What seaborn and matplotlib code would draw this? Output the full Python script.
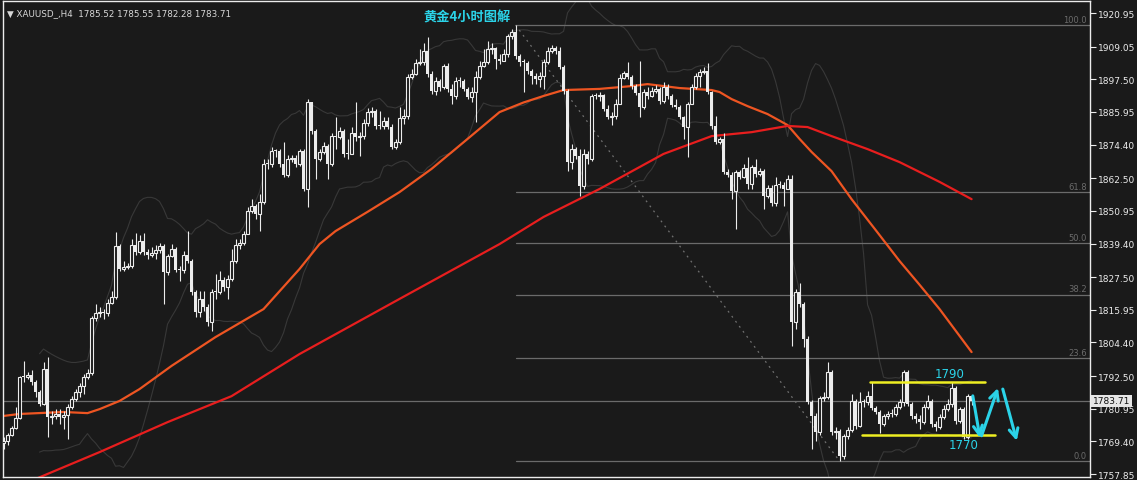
import matplotlib.pyplot as plt
import matplotlib.transforms as mtransforms
import numpy as np
import pandas as pd
import seaborn as sns

# 4H candles (XAUUSD); open = previous close
first_open = 1768.8
closes = [
    1769.5, 1771.6, 1774.1, 1777.7, 1792.2, 1792.2, 1792.9, 1790.4, 1786.9, 1782.6,
    1795.0, 1778.0, 1778.4, 1779.1, 1778.0, 1778.7, 1781.5, 1784.4, 1786.9, 1789.0,
    1792.2, 1793.6, 1813.0, 1814.8, 1815.2, 1814.8, 1818.3, 1820.5, 1838.5, 1830.4,
    1831.1, 1831.4, 1838.9, 1836.4, 1840.3, 1836.4, 1835.3, 1836.0, 1837.1, 1838.5,
    1829.3, 1835.0, 1837.5, 1830.0, 1830.0, 1835.3, 1833.2, 1822.2, 1815.2, 1819.8,
    1816.9, 1811.6, 1822.2, 1822.2, 1826.5, 1824.0, 1826.8, 1833.2, 1838.9, 1839.6,
    1842.8, 1850.9, 1852.7, 1849.8, 1854.1, 1867.5, 1867.5, 1872.1, 1872.1, 1867.5,
    1863.6, 1869.3, 1869.6, 1867.5, 1872.1, 1858.7, 1889.5, 1879.2, 1869.3, 1871.8,
    1873.9, 1867.5, 1877.4, 1877.1, 1879.2, 1871.1, 1871.1, 1878.5, 1877.1, 1877.4,
    1882.0, 1885.9, 1886.3, 1881.0, 1881.0, 1882.7, 1880.6, 1873.5, 1875.3, 1883.8,
    1884.5, 1898.3, 1899.4, 1903.3, 1903.6, 1907.5, 1899.4, 1893.3, 1896.9, 1894.8,
    1902.2, 1894.1, 1891.6, 1896.9, 1896.9, 1894.1, 1891.2, 1893.0, 1898.3, 1902.2,
    1903.6, 1908.2, 1908.6, 1904.7, 1904.0, 1906.4, 1912.8, 1914.2, 1905.7, 1903.6,
    1903.3, 1900.4, 1898.7, 1897.6, 1898.7, 1903.6, 1907.5, 1908.6, 1907.5, 1901.8,
    1893.3, 1868.2, 1872.8, 1870.4, 1859.7, 1871.1, 1869.3, 1891.6, 1891.6, 1891.9,
    1887.0, 1884.1, 1884.5, 1888.7, 1898.0, 1899.7, 1898.3, 1895.1, 1892.6, 1887.7,
    1893.0, 1891.6, 1893.3, 1894.1, 1889.8, 1894.8, 1891.6, 1888.4, 1887.7, 1884.1,
    1880.6, 1888.7, 1894.8, 1898.7, 1900.1, 1900.4, 1893.0, 1881.0, 1875.3, 1876.4,
    1864.7, 1863.6, 1858.0, 1864.7, 1862.9, 1866.1, 1860.4, 1866.5, 1864.0, 1865.0,
    1856.2, 1859.0, 1853.7, 1860.1, 1860.1, 1858.7, 1862.2, 1811.6, 1822.2, 1818.0,
    1805.6, 1783.3, 1778.4, 1772.7, 1784.7, 1785.1, 1793.9, 1772.7, 1773.1, 1764.2,
    1771.3, 1773.4, 1783.7, 1774.8, 1783.3, 1783.3, 1785.4, 1781.2, 1779.8, 1775.5,
    1778.4, 1779.1, 1779.1, 1781.5, 1783.3, 1793.9, 1782.6, 1778.4, 1777.3, 1776.2,
    1781.5, 1783.7, 1775.5, 1774.5, 1778.0, 1780.8, 1782.6, 1788.3, 1776.6, 1780.8,
    1770.9, 1785.52, 1783.71,
]
highs = [
    1770.9, 1772.3, 1774.8, 1781.5, 1792.5, 1797.8, 1793.9, 1794.6, 1791.1, 1787.6,
    1797.5, 1799.2, 1780.1, 1780.8, 1780.8, 1780.1, 1782.6, 1785.4, 1787.9, 1790.0,
    1793.3, 1795.0, 1813.7, 1818.0, 1816.9, 1816.2, 1819.8, 1822.6, 1843.5, 1839.2,
    1833.2, 1832.5, 1841.0, 1843.1, 1842.4, 1843.1, 1837.5, 1838.2, 1838.9, 1839.6,
    1839.2, 1835.7, 1839.2, 1838.2, 1831.4, 1836.7, 1843.8, 1833.9, 1822.9, 1822.6,
    1822.6, 1818.0, 1823.3, 1828.6, 1829.7, 1827.5, 1828.2, 1837.5, 1841.0, 1841.0,
    1843.8, 1852.3, 1855.1, 1853.4, 1856.9, 1869.3, 1869.3, 1873.5, 1872.8, 1872.8,
    1875.3, 1870.7, 1870.7, 1870.7, 1872.8, 1872.8, 1890.5, 1889.5, 1879.9, 1872.8,
    1875.3, 1874.6, 1878.5, 1884.1, 1880.6, 1879.9, 1876.4, 1880.6, 1889.5, 1878.8,
    1883.4, 1887.3, 1887.7, 1887.0, 1886.3, 1884.1, 1884.1, 1881.7, 1876.4, 1887.7,
    1887.0, 1899.4, 1901.1, 1904.7, 1908.2, 1910.3, 1912.5, 1900.4, 1898.3, 1897.6,
    1902.9, 1903.3, 1895.8, 1898.3, 1898.3, 1897.6, 1894.8, 1894.8, 1900.4, 1904.0,
    1908.2, 1911.0, 1910.3, 1908.9, 1906.4, 1908.2, 1913.5, 1915.3, 1916.7, 1906.4,
    1904.7, 1904.0, 1901.1, 1899.7, 1900.1, 1904.7, 1908.9, 1909.6, 1909.3, 1908.9,
    1902.5, 1894.1, 1874.6, 1873.5, 1872.8, 1872.8, 1872.1, 1892.3, 1892.6, 1893.0,
    1892.3, 1888.4, 1885.9, 1890.5, 1899.4, 1900.4, 1903.6, 1899.0, 1895.8, 1904.0,
    1894.1, 1894.8, 1894.8, 1895.5, 1894.8, 1896.5, 1895.8, 1892.3, 1890.5, 1888.4,
    1884.5, 1889.5, 1895.8, 1899.7, 1901.1, 1901.8, 1903.3, 1893.4, 1884.5, 1877.1,
    1878.5, 1865.8, 1864.7, 1865.4, 1865.4, 1867.5, 1870.0, 1867.2, 1869.3, 1866.1,
    1865.8, 1860.1, 1860.1, 1862.9, 1861.5, 1861.2, 1863.6, 1863.6, 1823.3, 1825.4,
    1818.7, 1806.7, 1784.0, 1779.4, 1785.4, 1786.8, 1797.5, 1794.6, 1774.5, 1773.8,
    1772.0, 1774.5, 1786.2, 1784.4, 1786.9, 1784.4, 1787.2, 1790.4, 1781.9, 1780.5,
    1779.1, 1780.1, 1780.8, 1782.6, 1784.4, 1794.6, 1794.6, 1783.3, 1779.4, 1778.7,
    1782.6, 1785.8, 1784.4, 1776.6, 1779.1, 1782.3, 1784.4, 1790.4, 1789.0, 1781.5,
    1781.5, 1786.2, 1785.55,
]
lows = [
    1766.7, 1768.1, 1771.3, 1773.8, 1777.3, 1790.4, 1791.5, 1789.3, 1785.1, 1781.9,
    1782.3, 1770.9, 1775.5, 1777.3, 1775.5, 1773.8, 1770.2, 1780.8, 1783.7, 1785.1,
    1786.2, 1791.5, 1792.9, 1812.0, 1813.4, 1812.7, 1813.7, 1818.0, 1819.8, 1829.7,
    1829.7, 1830.4, 1830.7, 1835.3, 1835.7, 1835.3, 1833.9, 1834.6, 1833.9, 1836.0,
    1818.0, 1828.2, 1834.6, 1829.3, 1826.1, 1829.0, 1832.5, 1821.2, 1813.4, 1813.4,
    1815.5, 1810.2, 1808.4, 1819.8, 1821.5, 1822.6, 1819.8, 1826.1, 1832.5, 1837.5,
    1838.9, 1843.8, 1850.2, 1848.1, 1843.8, 1853.4, 1865.8, 1866.5, 1870.0, 1866.5,
    1862.9, 1862.9, 1868.2, 1866.5, 1866.8, 1858.0, 1852.3, 1878.1, 1862.2, 1868.6,
    1871.1, 1862.2, 1866.8, 1872.8, 1876.4, 1870.0, 1869.3, 1874.6, 1875.7, 1870.3,
    1876.4, 1881.0, 1884.1, 1879.9, 1879.9, 1879.9, 1879.9, 1872.8, 1872.8, 1874.6,
    1881.7, 1883.4, 1897.6, 1899.0, 1902.5, 1902.5, 1898.3, 1892.3, 1891.9, 1893.4,
    1894.1, 1893.0, 1888.7, 1890.5, 1894.8, 1893.4, 1890.5, 1889.5, 1882.4, 1897.6,
    1901.8, 1902.9, 1906.4, 1901.1, 1902.9, 1904.0, 1905.4, 1911.8, 1904.7, 1902.2,
    1893.0, 1899.4, 1895.8, 1895.8, 1894.8, 1894.1, 1902.9, 1906.8, 1906.4, 1901.1,
    1892.3, 1865.0, 1865.8, 1869.3, 1856.2, 1858.7, 1867.5, 1868.6, 1890.5, 1889.8,
    1886.3, 1883.4, 1881.3, 1883.4, 1888.8, 1897.6, 1897.6, 1894.1, 1891.9, 1884.1,
    1887.0, 1890.5, 1891.2, 1892.6, 1888.8, 1889.1, 1890.5, 1887.7, 1887.0, 1883.4,
    1876.4, 1870.0, 1888.8, 1894.1, 1894.8, 1899.4, 1892.3, 1879.9, 1874.6, 1874.6,
    1864.0, 1862.9, 1855.1, 1844.5, 1862.2, 1862.6, 1858.7, 1858.7, 1862.9, 1863.3,
    1851.6, 1855.5, 1852.7, 1852.7, 1859.0, 1852.7, 1858.7, 1803.1, 1809.1, 1816.9,
    1802.8, 1782.6, 1766.7, 1769.5, 1771.6, 1783.7, 1784.4, 1771.6, 1770.2, 1762.4,
    1763.2, 1770.2, 1772.7, 1773.8, 1774.5, 1781.5, 1782.3, 1780.5, 1779.1, 1772.3,
    1774.8, 1777.3, 1778.0, 1778.4, 1780.8, 1781.9, 1781.9, 1777.3, 1775.9, 1773.8,
    1775.5, 1780.8, 1774.5, 1773.1, 1773.8, 1777.3, 1780.1, 1781.5, 1775.5, 1775.9,
    1770.2, 1770.2, 1782.28,
]

# moving averages (vertices, x = candle index)
ma_fast_idx = [0, 4, 15, 21, 24, 29, 34, 42, 53, 65, 74, 79, 83, 91, 99, 107, 116, 124, 130,
               135, 140, 149, 157, 161, 169, 177, 179, 182, 186, 191, 196, 199, 202, 207,
               212, 218, 224, 229, 234, 238, 242]
ma_fast = [1778.4, 1779.1, 1779.8, 1779.4, 1780.8, 1783.7, 1787.9, 1796.1, 1806.3, 1816.2,
           1830.4, 1839.2, 1843.8, 1850.6, 1857.6, 1865.8, 1876.4, 1885.9, 1889.3,
           1891.6, 1893.7, 1894.1, 1895.1, 1895.8, 1894.4, 1893.7, 1893.0, 1890.5,
           1888.0, 1885.2, 1881.3, 1876.4, 1871.8, 1865.0, 1855.1, 1844.2, 1833.2,
           1824.8, 1816.2, 1808.6, 1801.0]
ma_slow_idx = [7, 24, 41, 57, 74, 99, 124, 135, 149, 165, 177, 187, 196, 201, 207, 216,
               224, 234, 242]
ma_slow = [1755.5, 1765.6, 1776.2, 1785.4, 1800.3, 1819.8, 1839.2, 1848.8, 1858.7, 1871.1,
           1877.4, 1878.8, 1881.0, 1880.6, 1877.4, 1872.8, 1868.2, 1861.2, 1855.1]

fib_levels = [0.0, 23.6, 38.2, 50.0, 61.8, 100.0]
fib_hi_idx, fib_lo_idx = 128, 209
last_price = 1783.71
range_levels = [1790.3, 1771.8]
range_start = [216.6, 214.6]
range_end = [245.4, 247.9]
range_labels = ['1790', '1770']
range_label_idx = [236.6, 240.0]
# projected path (candle index, price)
path_idx = [242.3, 244.1, 244.5, 248.6, 249.8, 253.3]
path_px = [1785.5, 1770.6, 1771.4, 1788.3, 1787.9, 1769.6]

yticks = [1920.95, 1909.05, 1897.50, 1885.95, 1874.40, 1862.50, 1850.95, 1839.40,
          1827.50, 1815.95, 1804.40, 1792.50, 1780.95, 1769.40, 1757.85]

BG = '#1a1a1a'
FG = '#ececec'
CYAN = '#2bd3e8'

sns.set_theme(style='dark', rc={'axes.facecolor': BG, 'figure.facecolor': BG})
plt.rcParams['font.family'] = ['DejaVu Sans']

n = len(closes)
idx = np.arange(n)
closes_a = np.array(closes)
opens = np.concatenate([[first_open], closes_a[:-1]])
highs_a = np.maximum(np.array(highs), np.maximum(opens, closes_a))
lows_a = np.minimum(np.array(lows), np.minimum(opens, closes_a))

fig = plt.figure(figsize=(11.37, 4.81), dpi=100)
ax = fig.add_axes([3 / 1137, 3 / 481, 1087 / 1137, 476 / 481])
ax.set_facecolor(BG)

# Bollinger bands (20, 2)
s = pd.Series(closes_a)
mid = s.rolling(20, min_periods=10).mean()
sd = s.rolling(20, min_periods=10).std(ddof=0)
bands = pd.DataFrame({'idx': idx, 'upper': mid + 2 * sd, 'lower': mid - 2 * sd})
for col in ['upper', 'lower']:
    sns.lineplot(data=bands, x='idx', y=col, color='#383838', linewidth=0.8, ax=ax, zorder=1)

# fibonacci retracement
hi = highs_a[fib_hi_idx]
lo = lows_a[fib_lo_idx]
xmax = 271.6
for lvl in fib_levels:
    p = lo + (hi - lo) * lvl / 100
    ax.plot([fib_hi_idx, xmax], [p, p], color='#6b6b6b', lw=0.9, zorder=1)
    ax.text(xmax - 0.8, p + 0.4, f'{lvl:.1f}', color='#6b6b6b', fontsize=6,
            ha='right', va='bottom', zorder=2)
ax.plot([fib_hi_idx, fib_lo_idx], [hi, lo], color='#707070', lw=0.9,
        linestyle=(0, (1.5, 3.5)), zorder=1)

# last price line
ax.axhline(last_price, color='#6b6b6b', lw=0.9, zorder=1)

# moving averages
sns.lineplot(x=ma_fast_idx, y=ma_fast, color='#ee5522', linewidth=1.6, ax=ax, zorder=2)
sns.lineplot(x=ma_slow_idx, y=ma_slow, color='#e81e1e', linewidth=1.6, ax=ax, zorder=2)

# candles
ax.vlines(idx, lows_a, highs_a, color=FG, lw=0.8, zorder=3)
body = closes_a - opens
h = np.where(np.abs(body) < 0.3, 0.3, body)
bull = body > 0
ax.bar(idx[~bull], h[~bull], bottom=opens[~bull], width=0.78, color=FG,
       linewidth=0, zorder=4)
ax.bar(idx[bull], h[bull], bottom=opens[bull], width=0.58, color=BG,
       edgecolor=FG, linewidth=0.8, zorder=4)

# range lines and projection
for lvl, x0, x1 in zip(range_levels, range_start, range_end):
    ax.plot([x0, x1], [lvl, lvl], color='#eeee22', lw=1.8, zorder=5)
for lvl, lab, xi, dy in zip(range_levels, range_labels, range_label_idx, [3.0, -3.4]):
    ax.text(xi, lvl + dy, lab, color=CYAN, fontsize=8.5, ha='center', va='center', zorder=6)
for k in range(0, len(path_idx), 2):
    ax.annotate('', xy=(path_idx[k + 1], path_px[k + 1]), xytext=(path_idx[k], path_px[k]),
                arrowprops=dict(arrowstyle='->', color=CYAN, lw=2.2, mutation_scale=16,
                                shrinkA=0, shrinkB=0), zorder=6)

ax.text(0.427, 0.983, '黄金4小时图解', transform=ax.transAxes, color=CYAN, fontsize=9.5,
        fontweight='bold', ha='center', va='top', family=['Noto Sans CJK SC', 'DejaVu Sans'])
ax.text(0.004, 0.986, '▼ XAUUSD_,H4  1785.52 1785.55 1782.28 1783.71', transform=ax.transAxes,
        color='#d8d8d8', fontsize=6.3, ha='left', va='top')

ax.set_xlim(-0.125, xmax)
ax.set_ylim(1756.8, 1925.2)
ax.set_xticks([])
ax.yaxis.tick_right()
ax.set_yticks(yticks)
ax.set_yticklabels([f'{t:.2f}' for t in yticks])
ax.tick_params(axis='y', colors=FG, labelcolor=FG, labelsize=6.5, length=4, width=0.8,
               pad=2, right=True, direction='out')
ax.set_xlabel('')
ax.set_ylabel('')
ax.grid(False)
for sp in ax.spines.values():
    sp.set_color(FG)
    sp.set_linewidth(1)

trans = mtransforms.blended_transform_factory(ax.transAxes, ax.transData)
ax.text(1.0025, last_price, f'{last_price:.2f}', transform=trans, color='#111111', fontsize=6.5,
        ha='left', va='center', zorder=7,
        bbox=dict(boxstyle='square,pad=0.2', fc='#e6e6e6', ec='none'))

fig.savefig('out.png', dpi=100, facecolor=BG)
